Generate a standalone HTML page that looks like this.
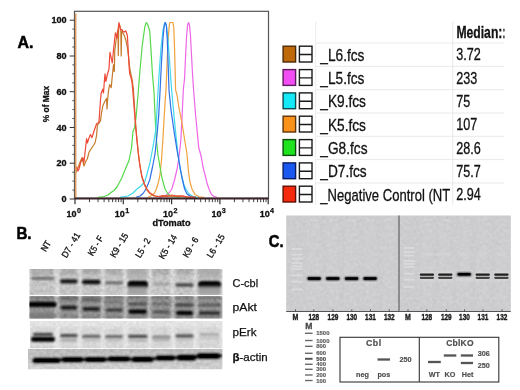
<!DOCTYPE html>
<html>
<head>
<meta charset="utf-8">
<title>Figure</title>
<style>
html,body{margin:0;padding:0;background:#fff;}
body{width:520px;height:390px;overflow:hidden;font-family:"Liberation Sans",sans-serif;}
svg{display:block;}
text{font-family:"Liberation Sans",sans-serif;}
.ax{font-weight:bold;font-size:9.1px;fill:#111;stroke:#111;stroke-width:0.3px;}
.sup{font-weight:bold;font-size:7.2px;fill:#111;stroke:#111;stroke-width:0.25px;}
.pl{font-weight:bold;font-size:17.4px;fill:#000;stroke:#000;stroke-width:0.55px;stroke-linejoin:round;}
.lg{font-size:16.5px;fill:#111;stroke:#111;stroke-width:0.3px;}
.lane{font-size:9.2px;fill:#111;stroke:#111;stroke-width:0.3px;}
.bl{font-size:11.3px;fill:#111;stroke:#111;stroke-width:0.25px;}
.gl{font-size:9px;font-weight:bold;fill:#1c1c1c;stroke:#1c1c1c;stroke-width:0.4px;}
.sm{font-size:5.9px;fill:#5a5a5a;font-weight:bold;stroke:#5a5a5a;stroke-width:0.15px;}
.sc{font-size:7.5px;fill:#505050;font-weight:bold;stroke:#505050;stroke-width:0.2px;}
.c{fill:none;stroke-width:1.2;stroke-linejoin:round;}
</style>
</head>
<body>
<svg width="520" height="390" viewBox="0 0 520 390">
<defs>
<filter id="b1" x="-20%" y="-50%" width="140%" height="200%"><feGaussianBlur stdDeviation="0.9"/></filter>
<filter id="b2" x="-20%" y="-50%" width="140%" height="200%"><feGaussianBlur stdDeviation="1.6"/></filter>
<filter id="b05" x="-10%" y="-10%" width="120%" height="120%"><feGaussianBlur stdDeviation="0.4"/></filter>
<clipPath id="lgclip"><rect x="270" y="0" width="234.5" height="212"/></clipPath>
<clipPath id="s1"><rect x="29.4" y="269" width="193.2" height="26"/></clipPath>
<clipPath id="s2"><rect x="29.4" y="296.2" width="193.2" height="22.3"/></clipPath>
<clipPath id="s3"><rect x="30" y="321" width="192.6" height="27.2"/></clipPath>
<clipPath id="s4"><rect x="28" y="349" width="194.6" height="20.4"/></clipPath>
<linearGradient id="g4" x1="0" y1="0" x2="0" y2="1"><stop offset="0" stop-color="#c2c2c2"/><stop offset="1" stop-color="#dadada"/></linearGradient>
<clipPath id="gelc"><rect x="286.2" y="215.5" width="224.6" height="95.5"/></clipPath>
<filter id="noise" x="0" y="0" width="100%" height="100%"><feTurbulence type="fractalNoise" baseFrequency="0.3" numOctaves="2" seed="7" result="n"/><feColorMatrix in="n" type="matrix" values="0 0 0 0 0  0 0 0 0 0  0 0 0 0 0  1.4 0 0 0 -0.35"/></filter>
<filter id="noisew" x="0" y="0" width="100%" height="100%"><feTurbulence type="fractalNoise" baseFrequency="0.28" numOctaves="2" seed="3" result="n"/><feColorMatrix in="n" type="matrix" values="0 0 0 0 1  0 0 0 0 1  0 0 0 0 1  0 1.4 0 0 -0.4"/></filter>
</defs>
<rect x="0" y="0" width="520" height="390" fill="#fff"/>
<rect x="74.5" y="11.3" width="194" height="187" fill="none" stroke="#555" stroke-width="1.2"/>
<line x1="69.7" x2="74.5" y1="199.0" y2="199.0" stroke="#333" stroke-width="1"/>
<text class="ax" x="66.6" y="202.2" text-anchor="end">0</text>
<line x1="72.3" x2="74.5" y1="190.1" y2="190.1" stroke="#444" stroke-width="0.9"/>
<line x1="72.3" x2="74.5" y1="181.1" y2="181.1" stroke="#444" stroke-width="0.9"/>
<line x1="72.3" x2="74.5" y1="172.2" y2="172.2" stroke="#444" stroke-width="0.9"/>
<line x1="69.7" x2="74.5" y1="163.2" y2="163.2" stroke="#333" stroke-width="1"/>
<text class="ax" x="66.6" y="166.4" text-anchor="end">20</text>
<line x1="72.3" x2="74.5" y1="154.3" y2="154.3" stroke="#444" stroke-width="0.9"/>
<line x1="72.3" x2="74.5" y1="145.4" y2="145.4" stroke="#444" stroke-width="0.9"/>
<line x1="72.3" x2="74.5" y1="136.4" y2="136.4" stroke="#444" stroke-width="0.9"/>
<line x1="69.7" x2="74.5" y1="127.5" y2="127.5" stroke="#333" stroke-width="1"/>
<text class="ax" x="66.6" y="130.7" text-anchor="end">40</text>
<line x1="72.3" x2="74.5" y1="118.5" y2="118.5" stroke="#444" stroke-width="0.9"/>
<line x1="72.3" x2="74.5" y1="109.6" y2="109.6" stroke="#444" stroke-width="0.9"/>
<line x1="72.3" x2="74.5" y1="100.7" y2="100.7" stroke="#444" stroke-width="0.9"/>
<line x1="69.7" x2="74.5" y1="91.7" y2="91.7" stroke="#333" stroke-width="1"/>
<text class="ax" x="66.6" y="94.9" text-anchor="end">60</text>
<line x1="72.3" x2="74.5" y1="82.8" y2="82.8" stroke="#444" stroke-width="0.9"/>
<line x1="72.3" x2="74.5" y1="73.8" y2="73.8" stroke="#444" stroke-width="0.9"/>
<line x1="72.3" x2="74.5" y1="64.9" y2="64.9" stroke="#444" stroke-width="0.9"/>
<line x1="69.7" x2="74.5" y1="56.0" y2="56.0" stroke="#333" stroke-width="1"/>
<text class="ax" x="66.6" y="59.2" text-anchor="end">80</text>
<line x1="72.3" x2="74.5" y1="47.0" y2="47.0" stroke="#444" stroke-width="0.9"/>
<line x1="72.3" x2="74.5" y1="38.1" y2="38.1" stroke="#444" stroke-width="0.9"/>
<line x1="72.3" x2="74.5" y1="29.1" y2="29.1" stroke="#444" stroke-width="0.9"/>
<line x1="69.7" x2="74.5" y1="20.2" y2="20.2" stroke="#333" stroke-width="1"/>
<text class="ax" x="66.6" y="23.4" text-anchor="end">100</text>
<line x1="75.0" x2="75.0" y1="198.5" y2="204.2" stroke="#333" stroke-width="1.2"/>
<text class="ax" x="76.5" y="217" text-anchor="end" style="font-size:9px">10</text>
<text class="sup" x="76.9" y="212.8">0</text>
<line x1="89.5" x2="89.5" y1="198.5" y2="202.2" stroke="#444" stroke-width="1"/>
<line x1="98.0" x2="98.0" y1="198.5" y2="202.2" stroke="#444" stroke-width="1"/>
<line x1="104.1" x2="104.1" y1="198.5" y2="202.2" stroke="#444" stroke-width="1"/>
<line x1="108.8" x2="108.8" y1="198.5" y2="202.2" stroke="#444" stroke-width="1"/>
<line x1="112.6" x2="112.6" y1="198.5" y2="202.2" stroke="#444" stroke-width="1"/>
<line x1="115.8" x2="115.8" y1="198.5" y2="202.2" stroke="#444" stroke-width="1"/>
<line x1="118.6" x2="118.6" y1="198.5" y2="202.2" stroke="#444" stroke-width="1"/>
<line x1="121.1" x2="121.1" y1="198.5" y2="202.2" stroke="#444" stroke-width="1"/>
<line x1="123.3" x2="123.3" y1="198.5" y2="204.2" stroke="#333" stroke-width="1.2"/>
<text class="ax" x="124.8" y="217" text-anchor="end" style="font-size:9px">10</text>
<text class="sup" x="125.2" y="212.8">1</text>
<line x1="137.8" x2="137.8" y1="198.5" y2="202.2" stroke="#444" stroke-width="1"/>
<line x1="146.3" x2="146.3" y1="198.5" y2="202.2" stroke="#444" stroke-width="1"/>
<line x1="152.4" x2="152.4" y1="198.5" y2="202.2" stroke="#444" stroke-width="1"/>
<line x1="157.1" x2="157.1" y1="198.5" y2="202.2" stroke="#444" stroke-width="1"/>
<line x1="160.9" x2="160.9" y1="198.5" y2="202.2" stroke="#444" stroke-width="1"/>
<line x1="164.1" x2="164.1" y1="198.5" y2="202.2" stroke="#444" stroke-width="1"/>
<line x1="166.9" x2="166.9" y1="198.5" y2="202.2" stroke="#444" stroke-width="1"/>
<line x1="169.4" x2="169.4" y1="198.5" y2="202.2" stroke="#444" stroke-width="1"/>
<line x1="171.6" x2="171.6" y1="198.5" y2="204.2" stroke="#333" stroke-width="1.2"/>
<text class="ax" x="173.1" y="217" text-anchor="end" style="font-size:9px">10</text>
<text class="sup" x="173.5" y="212.8">2</text>
<line x1="186.1" x2="186.1" y1="198.5" y2="202.2" stroke="#444" stroke-width="1"/>
<line x1="194.6" x2="194.6" y1="198.5" y2="202.2" stroke="#444" stroke-width="1"/>
<line x1="200.7" x2="200.7" y1="198.5" y2="202.2" stroke="#444" stroke-width="1"/>
<line x1="205.4" x2="205.4" y1="198.5" y2="202.2" stroke="#444" stroke-width="1"/>
<line x1="209.2" x2="209.2" y1="198.5" y2="202.2" stroke="#444" stroke-width="1"/>
<line x1="212.4" x2="212.4" y1="198.5" y2="202.2" stroke="#444" stroke-width="1"/>
<line x1="215.2" x2="215.2" y1="198.5" y2="202.2" stroke="#444" stroke-width="1"/>
<line x1="217.7" x2="217.7" y1="198.5" y2="202.2" stroke="#444" stroke-width="1"/>
<line x1="219.9" x2="219.9" y1="198.5" y2="204.2" stroke="#333" stroke-width="1.2"/>
<text class="ax" x="221.4" y="217" text-anchor="end" style="font-size:9px">10</text>
<text class="sup" x="221.8" y="212.8">3</text>
<line x1="234.4" x2="234.4" y1="198.5" y2="202.2" stroke="#444" stroke-width="1"/>
<line x1="242.9" x2="242.9" y1="198.5" y2="202.2" stroke="#444" stroke-width="1"/>
<line x1="249.0" x2="249.0" y1="198.5" y2="202.2" stroke="#444" stroke-width="1"/>
<line x1="253.7" x2="253.7" y1="198.5" y2="202.2" stroke="#444" stroke-width="1"/>
<line x1="257.5" x2="257.5" y1="198.5" y2="202.2" stroke="#444" stroke-width="1"/>
<line x1="260.7" x2="260.7" y1="198.5" y2="202.2" stroke="#444" stroke-width="1"/>
<line x1="263.5" x2="263.5" y1="198.5" y2="202.2" stroke="#444" stroke-width="1"/>
<line x1="266.0" x2="266.0" y1="198.5" y2="202.2" stroke="#444" stroke-width="1"/>
<line x1="268.2" x2="268.2" y1="198.5" y2="204.2" stroke="#333" stroke-width="1.2"/>
<text class="ax" x="269.7" y="217" text-anchor="end" style="font-size:9px">10</text>
<text class="sup" x="270.1" y="212.8">4</text>
<text class="ax" x="171.5" y="226.3" text-anchor="middle" style="font-size:9.2px">dTomato</text>
<text class="ax" transform="translate(48.8,104) rotate(-90)" text-anchor="middle" style="font-size:8.4px">% of Max</text>
<text class="pl" x="17.4" y="47.9" textLength="16" lengthAdjust="spacingAndGlyphs">A.</text>
<g filter="url(#b05)">
<path class="c" stroke="#ee66e8" d="M160.0,197.3 L165.0,196.0 L169.0,193.0 L171.8,189.0 L174.5,180.0 L177.0,169.5 L179.0,157.0 L180.8,141.0 L182.0,118.0 L183.3,90.0 L184.6,78.0 L185.6,55.0 L186.6,36.0 L187.6,25.0 L188.5,22.5 L189.5,25.0 L190.5,36.0 L191.5,55.0 L192.5,74.0 L193.6,90.0 L195.5,114.0 L197.4,133.6 L198.8,148.0 L200.0,152.0 L201.5,158.0 L203.0,167.0 L205.0,174.6 L207.0,183.0 L209.0,189.0 L211.5,194.5 L214.0,196.5 L217.0,197.3"/>
<path class="c" stroke="#f2a23c" d="M148.0,197.3 L152.0,195.5 L154.5,193.0 L156.4,189.0 L158.5,182.0 L160.0,174.6 L161.5,160.0 L162.8,141.0 L164.0,120.0 L165.2,100.0 L166.0,90.0 L167.0,65.0 L168.0,42.0 L169.0,28.0 L169.8,22.5 L173.0,22.5 L173.8,28.0 L174.6,50.0 L175.6,90.0 L177.0,95.0 L179.0,108.0 L182.0,123.0 L185.0,142.0 L187.0,154.0 L188.5,172.0 L190.0,182.0 L192.0,189.0 L195.0,194.5 L199.0,196.8 L204.0,197.3"/>
<path class="c" stroke="#55d84a" d="M98.0,197.3 L104.0,196.5 L108.0,195.0 L111.0,192.5 L114.0,190.5 L117.0,187.0 L121.5,178.5 L125.0,170.0 L129.0,160.5 L131.5,148.0 L133.0,131.0 L134.5,128.0 L136.0,118.0 L138.0,95.0 L140.0,70.0 L142.0,48.0 L143.5,36.0 L145.0,26.0 L146.4,22.5 L147.5,24.0 L148.5,27.0 L149.7,31.0 L151.0,50.0 L152.5,75.0 L154.0,92.0 L155.5,125.0 L156.5,141.0 L158.0,155.0 L160.0,167.0 L162.0,178.0 L165.0,189.0 L168.0,194.0 L172.0,196.5 L180.0,197.3"/>
<path class="c" stroke="#3fd8ee" d="M120.0,197.3 L128.0,196.0 L133.0,193.0 L137.0,189.0 L141.0,186.0 L144.6,182.0 L147.0,174.0 L149.7,164.0 L152.0,152.0 L154.5,138.0 L156.0,128.0 L157.5,100.0 L159.0,75.0 L161.0,48.0 L163.0,30.0 L165.0,22.5 L166.5,26.0 L168.0,40.0 L169.5,60.0 L171.0,82.0 L172.5,100.0 L174.0,115.6 L176.0,136.0 L178.0,154.0 L180.0,168.0 L182.0,177.0 L184.0,185.0 L186.0,189.0 L189.0,194.0 L193.0,196.5 L198.0,197.3"/>
<path class="c" stroke="#2f6fe6" d="M136.0,197.3 L140.0,196.0 L143.0,193.5 L146.0,189.0 L149.7,180.0 L152.5,167.0 L155.0,154.0 L157.0,135.0 L158.7,115.6 L160.0,92.0 L161.5,62.0 L163.0,38.0 L164.3,25.0 L165.3,22.5 L166.3,25.0 L167.3,40.0 L168.2,66.0 L169.0,90.0 L171.0,110.0 L173.0,124.0 L174.4,133.6 L177.0,150.0 L179.5,164.0 L182.0,178.0 L184.6,189.0 L187.0,194.0 L191.0,196.8 L196.0,197.3"/>
<path class="c" stroke="#c47a2a" d="M75.2,168.0 L76.3,172.0 L77.4,169.0 L79.0,165.0 L80.5,161.0 L82.0,157.7 L83.0,162.0 L84.0,166.0 L85.5,162.0 L87.4,158.5 L89.0,152.3 L91.0,149.0 L93.0,146.0 L95.0,143.0 L96.6,135.4 L97.4,125.4 L99.0,123.0 L100.5,120.8 L101.5,113.0 L102.8,106.0 L104.5,102.0 L106.6,98.5 L107.0,109.0 L107.6,100.0 L108.6,90.0 L109.7,84.6 L111.2,87.7 L112.3,76.0 L113.5,64.6 L114.3,71.5 L114.8,50.0 L115.6,44.0 L116.4,38.0 L117.3,32.0 L118.0,30.0 L118.3,55.4 L118.7,27.0 L119.2,24.0 L120.0,26.0 L120.8,30.0 L121.2,56.0 L121.6,33.0 L122.3,31.0 L123.0,33.0 L124.5,36.0 L126.0,40.8 L127.3,47.0 L128.5,56.0 L129.5,66.0 L130.6,73.0 L132.0,79.0 L133.3,88.0 L134.3,104.0 L135.4,120.0 L136.6,135.0 L138.0,150.0 L139.5,163.0 L141.5,175.0 L144.0,184.0 L147.0,190.0 L150.0,193.5 L154.0,196.0 L160.0,196.8 L166.0,195.6 L172.0,196.5 L178.0,195.8 L186.0,196.8 L196.0,197.3"/>
<path class="c" stroke="#ee4a38" d="M75.2,170.0 L76.6,167.0 L78.0,171.0 L79.0,169.0 L80.5,163.0 L82.8,157.7 L84.0,162.3 L85.3,150.0 L86.6,138.5 L87.4,143.0 L89.0,138.0 L90.5,134.6 L92.0,137.7 L94.0,131.0 L96.6,123.8 L98.0,123.0 L99.0,121.5 L99.7,111.5 L100.5,100.0 L101.2,93.0 L102.8,89.2 L103.5,93.0 L104.3,82.0 L105.0,73.8 L105.8,81.5 L107.5,74.0 L109.0,69.0 L109.6,58.0 L110.0,52.3 L111.0,57.0 L112.3,63.0 L113.5,50.0 L115.4,32.8 L116.3,36.0 L117.0,38.5 L118.0,30.0 L119.0,22.6 L119.8,27.0 L120.8,30.0 L122.0,29.5 L123.0,31.5 L124.5,32.0 L125.7,30.8 L126.6,33.0 L127.4,36.0 L128.2,50.0 L129.2,68.5 L129.8,74.0 L131.0,77.5 L132.0,82.0 L133.0,93.0 L134.3,110.0 L135.6,127.0 L137.0,141.0 L138.5,155.0 L140.0,166.0 L142.0,177.0 L144.5,184.0 L147.0,189.0 L150.0,193.0 L154.0,195.5 L158.0,196.5 L163.0,195.6 L167.0,196.6 L172.0,195.0 L177.0,196.3 L182.0,195.8 L187.0,196.8 L195.0,197.3"/>
<line x1="75.7" x2="75.7" y1="13.5" y2="198" stroke="#e0a064" stroke-width="1.6"/>
<line x1="74.5" x2="268.5" y1="198.5" y2="198.5" stroke="#3a2228" stroke-width="1.9"/>
</g>
<g clip-path="url(#lgclip)"><line x1="316" x2="504" y1="43.0" y2="43.0" stroke="#e9e9e9" stroke-width="1"/>
<line x1="316" x2="504" y1="66.3" y2="66.3" stroke="#e9e9e9" stroke-width="1"/>
<line x1="316" x2="504" y1="89.7" y2="89.7" stroke="#e9e9e9" stroke-width="1"/>
<line x1="316" x2="504" y1="113.0" y2="113.0" stroke="#e9e9e9" stroke-width="1"/>
<line x1="316" x2="504" y1="136.3" y2="136.3" stroke="#e9e9e9" stroke-width="1"/>
<line x1="316" x2="504" y1="159.6" y2="159.6" stroke="#e9e9e9" stroke-width="1"/>
<line x1="316" x2="504" y1="183.0" y2="183.0" stroke="#e9e9e9" stroke-width="1"/>
<line x1="315.7" x2="315.7" y1="21.5" y2="204.5" stroke="#ececec" stroke-width="1"/>
<line x1="452.8" x2="452.8" y1="21.5" y2="204.5" stroke="#e6e6e6" stroke-width="1"/>
<text class="lg" x="0" y="38.5" style="font-weight:bold;font-size:17.4px" transform="translate(456.4,0) scale(0.70,1)">Median:<tspan>:</tspan></text>
<rect x="283.1" y="46.2" width="12.5" height="15.8" fill="#c0690a" stroke="#4a2a08" stroke-width="1.4"/>
<rect x="299.4" y="46.2" width="12.6" height="15.8" fill="#fff" stroke="#1a1a1a" stroke-width="1.4"/>
<line x1="299.4" x2="312" y1="54.5" y2="54.5" stroke="#1a1a1a" stroke-width="1.4"/>
<text class="lg" y="60.8" x="0" transform="translate(320.3,0) scale(0.83,1)">_L6.fcs</text>
<text class="lg" y="60.5" x="0" transform="translate(456.2,0) scale(0.765,1)">3.72</text>
<rect x="283.1" y="69.6" width="12.5" height="15.8" fill="#f24df2" stroke="#5e1a5e" stroke-width="1.4"/>
<rect x="299.4" y="69.6" width="12.6" height="15.8" fill="#fff" stroke="#1a1a1a" stroke-width="1.4"/>
<line x1="299.4" x2="312" y1="77.9" y2="77.9" stroke="#1a1a1a" stroke-width="1.4"/>
<text class="lg" y="84.1" x="0" transform="translate(320.3,0) scale(0.83,1)">_L5.fcs</text>
<text class="lg" y="83.9" x="0" transform="translate(456.2,0) scale(0.765,1)">233</text>
<rect x="283.1" y="92.9" width="12.5" height="15.8" fill="#14eaf7" stroke="#0a4a50" stroke-width="1.4"/>
<rect x="299.4" y="92.9" width="12.6" height="15.8" fill="#fff" stroke="#1a1a1a" stroke-width="1.4"/>
<line x1="299.4" x2="312" y1="101.2" y2="101.2" stroke="#1a1a1a" stroke-width="1.4"/>
<text class="lg" y="107.4" x="0" transform="translate(320.3,0) scale(0.83,1)">_K9.fcs</text>
<text class="lg" y="107.2" x="0" transform="translate(456.2,0) scale(0.765,1)">75</text>
<rect x="283.1" y="116.2" width="12.5" height="15.8" fill="#f8921a" stroke="#5e3408" stroke-width="1.4"/>
<rect x="299.4" y="116.2" width="12.6" height="15.8" fill="#fff" stroke="#1a1a1a" stroke-width="1.4"/>
<line x1="299.4" x2="312" y1="124.5" y2="124.5" stroke="#1a1a1a" stroke-width="1.4"/>
<text class="lg" y="130.7" x="0" transform="translate(320.3,0) scale(0.83,1)">_K5.fcs</text>
<text class="lg" y="130.5" x="0" transform="translate(456.2,0) scale(0.765,1)">107</text>
<rect x="283.1" y="139.6" width="12.5" height="15.8" fill="#1fe31f" stroke="#0a4e0a" stroke-width="1.4"/>
<rect x="299.4" y="139.6" width="12.6" height="15.8" fill="#fff" stroke="#1a1a1a" stroke-width="1.4"/>
<line x1="299.4" x2="312" y1="147.9" y2="147.9" stroke="#1a1a1a" stroke-width="1.4"/>
<text class="lg" y="154.1" x="0" transform="translate(320.3,0) scale(0.83,1)">_G8.fcs</text>
<text class="lg" y="153.9" x="0" transform="translate(456.2,0) scale(0.765,1)">28.6</text>
<rect x="283.1" y="162.9" width="12.5" height="15.8" fill="#1a58f0" stroke="#0a1c60" stroke-width="1.4"/>
<rect x="299.4" y="162.9" width="12.6" height="15.8" fill="#fff" stroke="#1a1a1a" stroke-width="1.4"/>
<line x1="299.4" x2="312" y1="171.2" y2="171.2" stroke="#1a1a1a" stroke-width="1.4"/>
<text class="lg" y="177.4" x="0" transform="translate(320.3,0) scale(0.83,1)">_D7.fcs</text>
<text class="lg" y="177.2" x="0" transform="translate(456.2,0) scale(0.765,1)">75.7</text>
<rect x="283.1" y="186.2" width="12.5" height="15.8" fill="#f52a0c" stroke="#5e1005" stroke-width="1.4"/>
<rect x="299.4" y="186.2" width="12.6" height="15.8" fill="#fff" stroke="#1a1a1a" stroke-width="1.4"/>
<line x1="299.4" x2="312" y1="194.5" y2="194.5" stroke="#1a1a1a" stroke-width="1.4"/>
<text class="lg" y="200.7" x="0" transform="translate(320.3,0) scale(0.83,1)" textLength="156.5" lengthAdjust="spacingAndGlyphs">_Negative Control (NT</text>
<text class="lg" y="200.5" x="0" transform="translate(456.2,0) scale(0.765,1)">2.94</text></g>
<text class="pl" x="16.4" y="238.8" textLength="15.2" lengthAdjust="spacingAndGlyphs">B.</text>
<text class="lane" transform="translate(45.7,246.0) rotate(-59)" x="-5.4" y="3.2" textLength="10.8" lengthAdjust="spacingAndGlyphs">NT</text>
<text class="lane" transform="translate(70.8,245.2) rotate(-59)" x="-13.7" y="3.2" textLength="27.5" lengthAdjust="spacingAndGlyphs">D7 - 41</text>
<text class="lane" transform="translate(95.6,245.7) rotate(-59)" x="-10.7" y="3.2" textLength="21.3" lengthAdjust="spacingAndGlyphs">K5 - F</text>
<text class="lane" transform="translate(119.0,245.2) rotate(-59)" x="-13.3" y="3.2" textLength="26.6" lengthAdjust="spacingAndGlyphs">K9 - 15</text>
<text class="lane" transform="translate(142.8,248.0) rotate(-59)" x="-10.4" y="3.2" textLength="20.8" lengthAdjust="spacingAndGlyphs">L5 - 2</text>
<text class="lane" transform="translate(167.8,246.7) rotate(-59)" x="-13.3" y="3.2" textLength="26.6" lengthAdjust="spacingAndGlyphs">K5 - 14</text>
<text class="lane" transform="translate(190.5,247.2) rotate(-59)" x="-10.9" y="3.2" textLength="21.8" lengthAdjust="spacingAndGlyphs">K9 - 6</text>
<text class="lane" transform="translate(215.7,246.0) rotate(-59)" x="-12.8" y="3.2" textLength="25.6" lengthAdjust="spacingAndGlyphs">L6 - 15</text>
<g clip-path="url(#s1)">
<rect x="29.4" y="269.0" width="193.2" height="26.0" fill="#e0e0e0" />
<rect x="29.8" y="268.0" width="24.2" height="28.0" fill="#cecece" filter="url(#b1)"/>
<rect x="30.3" y="267.0" width="23.2" height="7.5" fill="#a8a8a8" filter="url(#b2)" opacity="0.75"/>
<rect x="60.0" y="268.0" width="17.4" height="28.0" fill="#cecece" filter="url(#b1)"/>
<rect x="60.5" y="267.0" width="16.4" height="7.5" fill="#a8a8a8" filter="url(#b2)" opacity="0.75"/>
<rect x="82.0" y="268.0" width="18.6" height="28.0" fill="#cecece" filter="url(#b1)"/>
<rect x="82.5" y="267.0" width="17.6" height="7.5" fill="#a8a8a8" filter="url(#b2)" opacity="0.75"/>
<rect x="105.0" y="268.0" width="18.0" height="28.0" fill="#cecece" filter="url(#b1)"/>
<rect x="105.5" y="267.0" width="17.0" height="7.5" fill="#a8a8a8" filter="url(#b2)" opacity="0.75"/>
<rect x="128.0" y="268.0" width="19.0" height="28.0" fill="#cecece" filter="url(#b1)"/>
<rect x="128.5" y="267.0" width="18.0" height="7.5" fill="#a8a8a8" filter="url(#b2)" opacity="0.75"/>
<rect x="152.0" y="268.0" width="18.0" height="28.0" fill="#cecece" filter="url(#b1)"/>
<rect x="152.5" y="267.0" width="17.0" height="7.5" fill="#a8a8a8" filter="url(#b2)" opacity="0.75"/>
<rect x="175.6" y="268.0" width="17.4" height="28.0" fill="#cecece" filter="url(#b1)"/>
<rect x="176.1" y="267.0" width="16.4" height="7.5" fill="#a8a8a8" filter="url(#b2)" opacity="0.75"/>
<rect x="198.4" y="268.0" width="22.2" height="28.0" fill="#cecece" filter="url(#b1)"/>
<rect x="198.9" y="267.0" width="21.2" height="7.5" fill="#a8a8a8" filter="url(#b2)" opacity="0.75"/>
<rect x="29.4" y="269.0" width="193.2" height="26.0" fill="#000" filter="url(#noise)" opacity="0.16"/><rect x="29.4" y="269.0" width="193.2" height="26.0" fill="#fff" filter="url(#noisew)" opacity="0.14"/>
<rect x="31.5" y="277.1" width="22.5" height="2.6" rx="1.3" fill="#505050" opacity="0.80" filter="url(#b1)"/>
<rect x="60.0" y="279.3" width="17.6" height="4.2" rx="2.1" fill="#111" opacity="0.95" filter="url(#b1)"/>
<rect x="82.0" y="279.8" width="18.6" height="4.4" rx="2.2" fill="#080808" opacity="1.00" filter="url(#b1)"/>
<rect x="105.0" y="281.4" width="18.2" height="2.8" rx="1.4" fill="#444" opacity="0.75" filter="url(#b1)"/>
<rect x="127.6" y="280.8" width="20.4" height="7.2" rx="3.6" fill="#000" opacity="1.00" filter="url(#b1)"/>
<rect x="153.0" y="282.7" width="17.0" height="2.6" rx="1.3" fill="#777" opacity="0.50" filter="url(#b1)"/>
<rect x="175.4" y="283.3" width="18.2" height="3.4" rx="1.7" fill="#333" opacity="0.85" filter="url(#b1)"/>
<rect x="198.0" y="281.0" width="23.0" height="7.2" rx="3.6" fill="#000" opacity="1.00" filter="url(#b1)"/>
<rect x="128.0" y="286.0" width="19.0" height="9.0" fill="#9a9a9a" filter="url(#b2)" opacity="0.8"/>
<rect x="128.0" y="269.0" width="19.0" height="10.0" fill="#aaa" filter="url(#b2)" opacity="0.6"/>
<rect x="198.4" y="286.0" width="22.2" height="9.0" fill="#9a9a9a" filter="url(#b2)" opacity="0.8"/>
<rect x="198.4" y="269.0" width="22.2" height="10.0" fill="#aaa" filter="url(#b2)" opacity="0.6"/>
</g>
<g clip-path="url(#s2)">
<rect x="29.4" y="296.2" width="193.2" height="22.4" fill="#bebebe" />
<rect x="29.3" y="295.0" width="25.2" height="25.0" fill="#969696" filter="url(#b1)"/>
<rect x="29.8" y="294.5" width="24.2" height="4.5" fill="#6a6a6a" filter="url(#b1)" opacity="0.55"/>
<rect x="30.8" y="315.2" width="22.2" height="2.2" fill="#6a6a6a" filter="url(#b1)" opacity="0.4"/>
<rect x="59.5" y="295.0" width="18.4" height="25.0" fill="#969696" filter="url(#b1)"/>
<rect x="60.0" y="294.5" width="17.4" height="4.5" fill="#6a6a6a" filter="url(#b1)" opacity="0.55"/>
<rect x="61.0" y="315.2" width="15.4" height="2.2" fill="#6a6a6a" filter="url(#b1)" opacity="0.4"/>
<rect x="81.5" y="295.0" width="19.6" height="25.0" fill="#969696" filter="url(#b1)"/>
<rect x="82.0" y="294.5" width="18.6" height="4.5" fill="#6a6a6a" filter="url(#b1)" opacity="0.55"/>
<rect x="83.0" y="315.2" width="16.6" height="2.2" fill="#6a6a6a" filter="url(#b1)" opacity="0.4"/>
<rect x="104.5" y="295.0" width="19.0" height="25.0" fill="#969696" filter="url(#b1)"/>
<rect x="105.0" y="294.5" width="18.0" height="4.5" fill="#6a6a6a" filter="url(#b1)" opacity="0.55"/>
<rect x="106.0" y="315.2" width="16.0" height="2.2" fill="#6a6a6a" filter="url(#b1)" opacity="0.4"/>
<rect x="127.5" y="295.0" width="20.0" height="25.0" fill="#969696" filter="url(#b1)"/>
<rect x="128.0" y="294.5" width="19.0" height="4.5" fill="#6a6a6a" filter="url(#b1)" opacity="0.55"/>
<rect x="129.0" y="315.2" width="17.0" height="2.2" fill="#6a6a6a" filter="url(#b1)" opacity="0.4"/>
<rect x="151.5" y="295.0" width="19.0" height="25.0" fill="#969696" filter="url(#b1)"/>
<rect x="152.0" y="294.5" width="18.0" height="4.5" fill="#6a6a6a" filter="url(#b1)" opacity="0.55"/>
<rect x="153.0" y="315.2" width="16.0" height="2.2" fill="#6a6a6a" filter="url(#b1)" opacity="0.4"/>
<rect x="175.1" y="295.0" width="18.4" height="25.0" fill="#969696" filter="url(#b1)"/>
<rect x="175.6" y="294.5" width="17.4" height="4.5" fill="#6a6a6a" filter="url(#b1)" opacity="0.55"/>
<rect x="176.6" y="315.2" width="15.4" height="2.2" fill="#6a6a6a" filter="url(#b1)" opacity="0.4"/>
<rect x="197.9" y="295.0" width="23.2" height="25.0" fill="#969696" filter="url(#b1)"/>
<rect x="198.4" y="294.5" width="22.2" height="4.5" fill="#6a6a6a" filter="url(#b1)" opacity="0.55"/>
<rect x="199.4" y="315.2" width="20.2" height="2.2" fill="#6a6a6a" filter="url(#b1)" opacity="0.4"/>
<rect x="29.4" y="296.2" width="193.2" height="22.3" fill="#000" filter="url(#noise)" opacity="0.20"/><rect x="29.4" y="296.2" width="193.2" height="22.3" fill="#fff" filter="url(#noisew)" opacity="0.14"/>
<rect x="28.0" y="301.7" width="28.5" height="5.4" rx="2.7" fill="#000" opacity="1.00" filter="url(#b1)"/>
<rect x="60.0" y="297.7" width="17.6" height="2.6" rx="1.3" fill="#555" opacity="0.55" filter="url(#b1)"/>
<rect x="60.6" y="305.8" width="16.4" height="3.6" rx="1.8" fill="#111" opacity="0.95" filter="url(#b1)"/>
<rect x="82.0" y="298.6" width="18.6" height="2.8" rx="1.4" fill="#444" opacity="0.60" filter="url(#b1)"/>
<rect x="82.6" y="307.2" width="17.4" height="3.6" rx="1.8" fill="#111" opacity="0.95" filter="url(#b1)"/>
<rect x="105.0" y="300.7" width="18.0" height="2.6" rx="1.3" fill="#555" opacity="0.45" filter="url(#b1)"/>
<rect x="106.0" y="308.4" width="16.6" height="3.2" rx="1.6" fill="#222" opacity="0.85" filter="url(#b1)"/>
<rect x="128.0" y="302.5" width="19.6" height="3.0" rx="1.5" fill="#333" opacity="0.70" filter="url(#b1)"/>
<rect x="128.5" y="309.5" width="18.5" height="4.2" rx="2.1" fill="#000" opacity="1.00" filter="url(#b1)"/>
<rect x="152.0" y="302.7" width="18.6" height="2.6" rx="1.3" fill="#444" opacity="0.50" filter="url(#b1)"/>
<rect x="152.5" y="310.5" width="17.5" height="3.0" rx="1.5" fill="#333" opacity="0.70" filter="url(#b1)"/>
<rect x="175.4" y="303.4" width="18.2" height="3.2" rx="1.6" fill="#222" opacity="0.75" filter="url(#b1)"/>
<rect x="176.0" y="310.9" width="17.0" height="4.2" rx="2.1" fill="#000" opacity="1.00" filter="url(#b1)"/>
<rect x="198.4" y="303.5" width="22.6" height="3.0" rx="1.5" fill="#333" opacity="0.55" filter="url(#b1)"/>
<rect x="199.0" y="311.3" width="21.0" height="3.4" rx="1.7" fill="#1a1a1a" opacity="0.85" filter="url(#b1)"/>
<rect x="29.4" y="313.0" width="27.0" height="6.0" fill="#777" filter="url(#b2)" opacity="0.7"/>
</g>
<g clip-path="url(#s3)">
<rect x="30.0" y="321.0" width="192.6" height="27.2" fill="#ebebeb" />
<rect x="29.8" y="327.0" width="24.2" height="23.0" fill="#dcdcdc" filter="url(#b2)"/>
<rect x="60.0" y="327.0" width="17.4" height="23.0" fill="#dcdcdc" filter="url(#b2)"/>
<rect x="82.0" y="327.0" width="18.6" height="23.0" fill="#dcdcdc" filter="url(#b2)"/>
<rect x="105.0" y="327.0" width="18.0" height="23.0" fill="#dcdcdc" filter="url(#b2)"/>
<rect x="128.0" y="327.0" width="19.0" height="23.0" fill="#dcdcdc" filter="url(#b2)"/>
<rect x="152.0" y="327.0" width="18.0" height="23.0" fill="#dcdcdc" filter="url(#b2)"/>
<rect x="175.6" y="327.0" width="17.4" height="23.0" fill="#dcdcdc" filter="url(#b2)"/>
<rect x="198.4" y="327.0" width="22.2" height="23.0" fill="#dcdcdc" filter="url(#b2)"/>
<rect x="30.0" y="321.0" width="192.6" height="27.2" fill="#000" filter="url(#noise)" opacity="0.09"/><rect x="30.0" y="321.0" width="192.6" height="27.2" fill="#fff" filter="url(#noisew)" opacity="0.10"/>
<rect x="33.0" y="333.0" width="20.0" height="2.8" rx="1.4" fill="#222" opacity="0.90" filter="url(#b1)"/>
<rect x="31.0" y="336.7" width="24.0" height="5.0" rx="2.5" fill="#000" opacity="1.00" filter="url(#b1)"/>
<rect x="60.0" y="334.0" width="17.6" height="3.2" rx="1.6" fill="#3a3a3a" opacity="0.90" filter="url(#b1)"/>
<rect x="60.5" y="338.5" width="16.5" height="3.0" rx="1.5" fill="#888" opacity="0.60" filter="url(#b1)"/>
<rect x="82.0" y="334.8" width="18.6" height="3.2" rx="1.6" fill="#555" opacity="0.85" filter="url(#b1)"/>
<rect x="83.0" y="338.7" width="17.0" height="2.6" rx="1.3" fill="#aaa" opacity="0.60" filter="url(#b1)"/>
<rect x="105.0" y="335.0" width="18.0" height="3.2" rx="1.6" fill="#5a5a5a" opacity="0.85" filter="url(#b1)"/>
<rect x="106.0" y="338.7" width="16.6" height="2.6" rx="1.3" fill="#aaa" opacity="0.60" filter="url(#b1)"/>
<rect x="128.0" y="334.7" width="19.6" height="3.4" rx="1.7" fill="#3a3a3a" opacity="0.90" filter="url(#b1)"/>
<rect x="128.5" y="338.9" width="18.5" height="2.6" rx="1.3" fill="#999" opacity="0.60" filter="url(#b1)"/>
<rect x="152.0" y="335.5" width="18.6" height="3.0" rx="1.5" fill="#777" opacity="0.80" filter="url(#b1)"/>
<rect x="152.5" y="338.7" width="17.5" height="2.6" rx="1.3" fill="#999" opacity="0.70" filter="url(#b1)"/>
<rect x="175.4" y="334.3" width="18.2" height="3.4" rx="1.7" fill="#484848" opacity="0.90" filter="url(#b1)"/>
<rect x="176.0" y="338.8" width="17.0" height="2.4" rx="1.2" fill="#aaa" opacity="0.50" filter="url(#b1)"/>
<rect x="199.0" y="333.2" width="20.0" height="2.8" rx="1.4" fill="#999" opacity="0.70" filter="url(#b1)"/>
<rect x="199.0" y="337.3" width="20.0" height="2.4" rx="1.2" fill="#bbb" opacity="0.50" filter="url(#b1)"/>
</g>
<g clip-path="url(#s4)">
<rect x="28" y="349" width="194.6" height="20.4" fill="url(#g4)"/>
<rect x="28.0" y="349.0" width="194.6" height="20.4" fill="#000" filter="url(#noise)" opacity="0.14"/><rect x="28.0" y="349.0" width="194.6" height="20.4" fill="#fff" filter="url(#noisew)" opacity="0.12"/>
<g filter="url(#b1)">
<rect x="32.5" y="357.8" width="28.0" height="5.2" rx="2.6" fill="#000"/>
<rect x="61.5" y="357.0" width="22.0" height="5.2" rx="2.6" fill="#000"/>
<rect x="84.5" y="357.1" width="22.0" height="5.0" rx="2.5" fill="#000"/>
<rect x="107.5" y="356.6" width="23.0" height="4.8" rx="2.4" fill="#000"/>
<rect x="131.5" y="356.7" width="22.0" height="5.4" rx="2.7" fill="#000"/>
<rect x="155.5" y="355.6" width="20.0" height="4.8" rx="2.4" fill="#000"/>
<rect x="176.5" y="354.8" width="20.0" height="5.6" rx="2.8" fill="#000"/>
<rect x="196.5" y="353.3" width="24.0" height="5.4" rx="2.7" fill="#000"/>
<path d="M33,360.4 L72,359.6 L95,359.6 L119,359 L142,359.4 L165,358 L186,357.6 L208,356 L222,355.8" stroke="#000" stroke-width="2.6" fill="none"/>
</g>
<rect x="34.5" y="358.7" width="24.0" height="3.4" rx="1.7" fill="#000"/>
<rect x="63.5" y="357.9" width="18.0" height="3.4" rx="1.7" fill="#000"/>
<rect x="86.5" y="358.0" width="18.0" height="3.2" rx="1.6" fill="#000"/>
<rect x="109.5" y="357.5" width="19.0" height="3.0" rx="1.5" fill="#000"/>
<rect x="133.5" y="357.6" width="18.0" height="3.6" rx="1.8" fill="#000"/>
<rect x="157.5" y="356.5" width="16.0" height="3.0" rx="1.5" fill="#000"/>
<rect x="178.5" y="355.7" width="16.0" height="3.8" rx="1.9" fill="#000"/>
<rect x="198.5" y="354.2" width="20.0" height="3.6" rx="1.8" fill="#000"/>
</g>
<text class="bl" x="232.6" y="287.2" textLength="25.5" lengthAdjust="spacingAndGlyphs">C-cbl</text>
<text class="bl" x="232.6" y="310.6" textLength="24.3" lengthAdjust="spacingAndGlyphs">pAkt</text>
<text class="bl" x="232.6" y="336.0" textLength="24.0" lengthAdjust="spacingAndGlyphs">pErk</text>
<text class="bl" x="232.4" y="360.5" textLength="35.2" lengthAdjust="spacingAndGlyphs"><tspan style="font-weight:bold">β</tspan>-actin</text>
<text class="pl" x="268.8" y="246.6" textLength="14.8" lengthAdjust="spacingAndGlyphs">C.</text>
<rect x="286.2" y="215.5" width="224.6" height="95.5" fill="#d0d0d2"/>
<g clip-path="url(#gelc)">
<rect x="307.9" y="222" width="13" height="86" fill="#d3d3d5" opacity="0.7" filter="url(#b2)"/>
<rect x="309.9" y="219.5" width="9" height="1.6" fill="#d9d9db" opacity="0.9" filter="url(#b05)"/>
<rect x="326.5" y="222" width="13" height="86" fill="#d3d3d5" opacity="0.7" filter="url(#b2)"/>
<rect x="328.5" y="219.5" width="9" height="1.6" fill="#d9d9db" opacity="0.9" filter="url(#b05)"/>
<rect x="345.3" y="222" width="13" height="86" fill="#d3d3d5" opacity="0.7" filter="url(#b2)"/>
<rect x="347.3" y="219.5" width="9" height="1.6" fill="#d9d9db" opacity="0.9" filter="url(#b05)"/>
<rect x="363.8" y="222" width="13" height="86" fill="#d3d3d5" opacity="0.7" filter="url(#b2)"/>
<rect x="365.8" y="219.5" width="9" height="1.6" fill="#d9d9db" opacity="0.9" filter="url(#b05)"/>
<rect x="382.5" y="222" width="13" height="86" fill="#d3d3d5" opacity="0.7" filter="url(#b2)"/>
<rect x="384.5" y="219.5" width="9" height="1.6" fill="#d9d9db" opacity="0.9" filter="url(#b05)"/>
<rect x="420.5" y="222" width="13" height="86" fill="#d3d3d5" opacity="0.7" filter="url(#b2)"/>
<rect x="422.5" y="219.5" width="9" height="1.6" fill="#d9d9db" opacity="0.9" filter="url(#b05)"/>
<rect x="438.9" y="222" width="13" height="86" fill="#d3d3d5" opacity="0.7" filter="url(#b2)"/>
<rect x="440.9" y="219.5" width="9" height="1.6" fill="#d9d9db" opacity="0.9" filter="url(#b05)"/>
<rect x="457.9" y="222" width="13" height="86" fill="#d3d3d5" opacity="0.7" filter="url(#b2)"/>
<rect x="459.9" y="219.5" width="9" height="1.6" fill="#d9d9db" opacity="0.9" filter="url(#b05)"/>
<rect x="476.3" y="222" width="13" height="86" fill="#d3d3d5" opacity="0.7" filter="url(#b2)"/>
<rect x="478.3" y="219.5" width="9" height="1.6" fill="#d9d9db" opacity="0.9" filter="url(#b05)"/>
<rect x="495.0" y="222" width="13" height="86" fill="#d3d3d5" opacity="0.7" filter="url(#b2)"/>
<rect x="497.0" y="219.5" width="9" height="1.6" fill="#d9d9db" opacity="0.9" filter="url(#b05)"/>
<rect x="286.2" y="215.5" width="224.6" height="95.5" fill="#000" filter="url(#noise)" opacity="0.06"/>
<rect x="286.2" y="215.5" width="224.6" height="95.5" fill="#fff" filter="url(#noisew)" opacity="0.08"/>
<rect x="291.5" y="248.0" width="11" height="1.8" fill="#dadadc"/>
<rect x="291.5" y="253.8" width="11" height="1.8" fill="#dadadc"/>
<rect x="291.5" y="257.8" width="11" height="1.8" fill="#dadadc"/>
<rect x="291.5" y="262.3" width="11" height="1.8" fill="#dadadc"/>
<rect x="291.5" y="265.4" width="11" height="1.8" fill="#dadadc"/>
<rect x="291.5" y="268.1" width="11" height="1.8" fill="#dadadc"/>
<rect x="291.5" y="274.6" width="11" height="1.8" fill="#dadadc"/>
<rect x="291.5" y="280.8" width="11" height="1.8" fill="#dadadc"/>
<rect x="291.5" y="288.5" width="11" height="1.8" fill="#dadadc"/>
<rect x="403.5" y="247.0" width="11" height="1.8" fill="#dadadc"/>
<rect x="403.5" y="251.2" width="11" height="1.8" fill="#dadadc"/>
<rect x="403.5" y="254.7" width="11" height="1.8" fill="#dadadc"/>
<rect x="403.5" y="260.1" width="11" height="1.8" fill="#dadadc"/>
<rect x="403.5" y="263.1" width="11" height="1.8" fill="#dadadc"/>
<rect x="403.5" y="266.1" width="11" height="1.8" fill="#dadadc"/>
<rect x="403.5" y="272.8" width="11" height="1.8" fill="#dadadc"/>
<rect x="403.5" y="278.8" width="11" height="1.8" fill="#dadadc"/>
<rect x="403.5" y="286.1" width="11" height="1.8" fill="#dadadc"/>
<rect x="306.4" y="276" width="16" height="6.5" fill="#d9d9db" opacity="0.8" filter="url(#b1)"/>
<rect x="307.2" y="276.9" width="14" height="3.4" rx="1.2" fill="#000" filter="url(#b1)"/>
<rect x="307.7" y="277.3" width="13" height="2.4" rx="1" fill="#000"/>
<rect x="325.0" y="276" width="16" height="6.5" fill="#d9d9db" opacity="0.8" filter="url(#b1)"/>
<rect x="325.8" y="276.9" width="14" height="3.4" rx="1.2" fill="#000" filter="url(#b1)"/>
<rect x="326.3" y="277.3" width="13" height="2.4" rx="1" fill="#000"/>
<rect x="343.8" y="276" width="16" height="6.5" fill="#d9d9db" opacity="0.8" filter="url(#b1)"/>
<rect x="344.6" y="276.9" width="14" height="3.4" rx="1.2" fill="#000" filter="url(#b1)"/>
<rect x="345.1" y="277.3" width="13" height="2.4" rx="1" fill="#000"/>
<rect x="362.3" y="276" width="16" height="6.5" fill="#d9d9db" opacity="0.8" filter="url(#b1)"/>
<rect x="363.1" y="276.9" width="14" height="3.4" rx="1.2" fill="#000" filter="url(#b1)"/>
<rect x="363.6" y="277.3" width="13" height="2.4" rx="1" fill="#000"/>
<rect x="419.0" y="271.5" width="16" height="9.5" fill="#d9d9db" opacity="0.7" filter="url(#b1)"/>
<rect x="419.8" y="273.4" width="14.2" height="2.3" rx="0.8" fill="#1e1e1e"/>
<rect x="419.8" y="276.8" width="14.2" height="2.1" rx="0.8" fill="#444"/>
<rect x="421.5" y="252.5" width="11" height="3" fill="#d6d6d8" opacity="0.7" filter="url(#b1)"/>
<rect x="437.4" y="271.5" width="16" height="9.5" fill="#d9d9db" opacity="0.7" filter="url(#b1)"/>
<rect x="438.2" y="273.4" width="14.2" height="2.3" rx="0.8" fill="#1e1e1e"/>
<rect x="438.2" y="276.8" width="14.2" height="2.1" rx="0.8" fill="#444"/>
<rect x="439.9" y="252.5" width="11" height="3" fill="#d6d6d8" opacity="0.7" filter="url(#b1)"/>
<rect x="456.4" y="271.5" width="16" height="9.5" fill="#d9d9db" opacity="0.7" filter="url(#b1)"/>
<rect x="457.2" y="272.7" width="14" height="3.4" rx="1.2" fill="#000" filter="url(#b1)"/>
<rect x="457.7" y="273.1" width="13" height="2.4" rx="1" fill="#000"/>
<rect x="458.9" y="252.5" width="11" height="3" fill="#d6d6d8" opacity="0.7" filter="url(#b1)"/>
<rect x="474.8" y="271.5" width="16" height="9.5" fill="#d9d9db" opacity="0.7" filter="url(#b1)"/>
<rect x="475.6" y="273.4" width="14.2" height="2.3" rx="0.8" fill="#1e1e1e"/>
<rect x="475.6" y="276.8" width="14.2" height="2.1" rx="0.8" fill="#444"/>
<rect x="477.3" y="252.5" width="11" height="3" fill="#d6d6d8" opacity="0.7" filter="url(#b1)"/>
<rect x="493.5" y="271.5" width="16" height="9.5" fill="#d9d9db" opacity="0.7" filter="url(#b1)"/>
<rect x="494.3" y="273.4" width="14.2" height="2.3" rx="0.8" fill="#1e1e1e"/>
<rect x="494.3" y="276.8" width="14.2" height="2.1" rx="0.8" fill="#444"/>
<rect x="496.0" y="252.5" width="11" height="3" fill="#d6d6d8" opacity="0.7" filter="url(#b1)"/>
</g>
<line x1="399" x2="399" y1="215.5" y2="312" stroke="#6a6a6a" stroke-width="1.3"/>
<line x1="286.2" x2="510.8" y1="311.5" y2="311.5" stroke="#555" stroke-width="1.2"/>
<line x1="295.5" x2="295.5" y1="309.4" y2="312" stroke="#555" stroke-width="1"/>
<text class="gl" x="292.6" y="320.2" textLength="5.8" lengthAdjust="spacingAndGlyphs">M</text>
<line x1="313.8" x2="313.8" y1="309.4" y2="312" stroke="#555" stroke-width="1"/>
<text class="gl" x="308.4" y="320.2" textLength="10.8" lengthAdjust="spacingAndGlyphs">128</text>
<line x1="333.0" x2="333.0" y1="309.4" y2="312" stroke="#555" stroke-width="1"/>
<text class="gl" x="327.6" y="320.2" textLength="10.8" lengthAdjust="spacingAndGlyphs">129</text>
<line x1="351.8" x2="351.8" y1="309.4" y2="312" stroke="#555" stroke-width="1"/>
<text class="gl" x="346.4" y="320.2" textLength="10.8" lengthAdjust="spacingAndGlyphs">130</text>
<line x1="370.5" x2="370.5" y1="309.4" y2="312" stroke="#555" stroke-width="1"/>
<text class="gl" x="365.1" y="320.2" textLength="10.8" lengthAdjust="spacingAndGlyphs">131</text>
<line x1="389.3" x2="389.3" y1="309.4" y2="312" stroke="#555" stroke-width="1"/>
<text class="gl" x="383.9" y="320.2" textLength="10.8" lengthAdjust="spacingAndGlyphs">132</text>
<line x1="408.0" x2="408.0" y1="309.4" y2="312" stroke="#555" stroke-width="1"/>
<text class="gl" x="405.1" y="320.2" textLength="5.8" lengthAdjust="spacingAndGlyphs">M</text>
<line x1="426.8" x2="426.8" y1="309.4" y2="312" stroke="#555" stroke-width="1"/>
<text class="gl" x="421.4" y="320.2" textLength="10.8" lengthAdjust="spacingAndGlyphs">128</text>
<line x1="446.3" x2="446.3" y1="309.4" y2="312" stroke="#555" stroke-width="1"/>
<text class="gl" x="440.9" y="320.2" textLength="10.8" lengthAdjust="spacingAndGlyphs">129</text>
<line x1="464.5" x2="464.5" y1="309.4" y2="312" stroke="#555" stroke-width="1"/>
<text class="gl" x="459.1" y="320.2" textLength="10.8" lengthAdjust="spacingAndGlyphs">130</text>
<line x1="483.0" x2="483.0" y1="309.4" y2="312" stroke="#555" stroke-width="1"/>
<text class="gl" x="477.6" y="320.2" textLength="10.8" lengthAdjust="spacingAndGlyphs">131</text>
<line x1="502.0" x2="502.0" y1="309.4" y2="312" stroke="#555" stroke-width="1"/>
<text class="gl" x="496.6" y="320.2" textLength="10.8" lengthAdjust="spacingAndGlyphs">132</text>
<text class="sc" x="308.8" y="329" text-anchor="middle" style="font-size:8.6px;fill:#4a4a4a;stroke:#4a4a4a;stroke-width:0.3px">M</text>
<line x1="305" x2="312.6" y1="333.3" y2="333.3" stroke="#6a6a6a" stroke-width="1.4"/>
<text class="sm" x="316.3" y="335.4">1500</text>
<line x1="305" x2="312.6" y1="340.5" y2="340.5" stroke="#6a6a6a" stroke-width="1.4"/>
<text class="sm" x="316.3" y="342.6">1000</text>
<line x1="305" x2="312.6" y1="346.3" y2="346.3" stroke="#6a6a6a" stroke-width="1.4"/>
<text class="sm" x="316.3" y="348.4">800</text>
<line x1="305" x2="312.6" y1="353.3" y2="353.3" stroke="#6a6a6a" stroke-width="1.4"/>
<text class="sm" x="316.3" y="355.4">600</text>
<line x1="305" x2="312.6" y1="358.8" y2="358.8" stroke="#555" stroke-width="2.0"/>
<text class="sm" x="316.3" y="360.9" style="fill:#333">500</text>
<line x1="305" x2="312.6" y1="364.3" y2="364.3" stroke="#6a6a6a" stroke-width="1.4"/>
<text class="sm" x="316.3" y="366.4">400</text>
<line x1="305" x2="312.6" y1="369.3" y2="369.3" stroke="#6a6a6a" stroke-width="1.4"/>
<text class="sm" x="316.3" y="371.4">300</text>
<line x1="305" x2="312.6" y1="375.0" y2="375.0" stroke="#6a6a6a" stroke-width="1.4"/>
<text class="sm" x="316.3" y="377.1">200</text>
<line x1="305" x2="312.6" y1="380.5" y2="380.5" stroke="#6a6a6a" stroke-width="1.4"/>
<text class="sm" x="316.3" y="382.6">100</text>
<rect x="340" y="337.3" width="158.8" height="44.7" fill="#fff" stroke="#333" stroke-width="1.1"/>
<line x1="419.3" x2="419.3" y1="337.3" y2="382" stroke="#333" stroke-width="1.1"/>
<text class="sc" x="373.8" y="345.8" text-anchor="middle" style="font-size:8.8px;letter-spacing:0.4px">Cbl</text>
<text class="sc" x="460" y="345.8" text-anchor="middle" style="font-size:8.5px;letter-spacing:0.2px">CblKO</text>
<line x1="377.5" x2="390.0" y1="359.5" y2="359.5" stroke="#555" stroke-width="2.3"/>
<line x1="428.0" x2="440.8" y1="362.0" y2="362.0" stroke="#555" stroke-width="2.3"/>
<line x1="443.8" x2="456.3" y1="355.5" y2="355.5" stroke="#555" stroke-width="2.3"/>
<line x1="460.8" x2="473.0" y1="355.5" y2="355.5" stroke="#555" stroke-width="2.3"/>
<line x1="460.8" x2="473.0" y1="363.0" y2="363.0" stroke="#555" stroke-width="2.3"/>
<text class="sc" x="405.5" y="362.3" text-anchor="middle" style="font-size:7.2px">250</text>
<text class="sc" x="483.8" y="356.2" text-anchor="middle" style="font-size:7.2px">306</text>
<text class="sc" x="483.8" y="368.0" text-anchor="middle" style="font-size:7.2px">250</text>
<text class="sc" x="362.5" y="377.0" text-anchor="middle" style="font-size:7.2px">neg</text>
<text class="sc" x="383.8" y="377.0" text-anchor="middle" style="font-size:7.2px">pos</text>
<text class="sc" x="434.3" y="377.0" text-anchor="middle" style="font-size:7.2px">WT</text>
<text class="sc" x="450.0" y="377.0" text-anchor="middle" style="font-size:7.2px">KO</text>
<text class="sc" x="467.5" y="377.0" text-anchor="middle" style="font-size:7.2px">Het</text>
</svg>
</body>
</html>
